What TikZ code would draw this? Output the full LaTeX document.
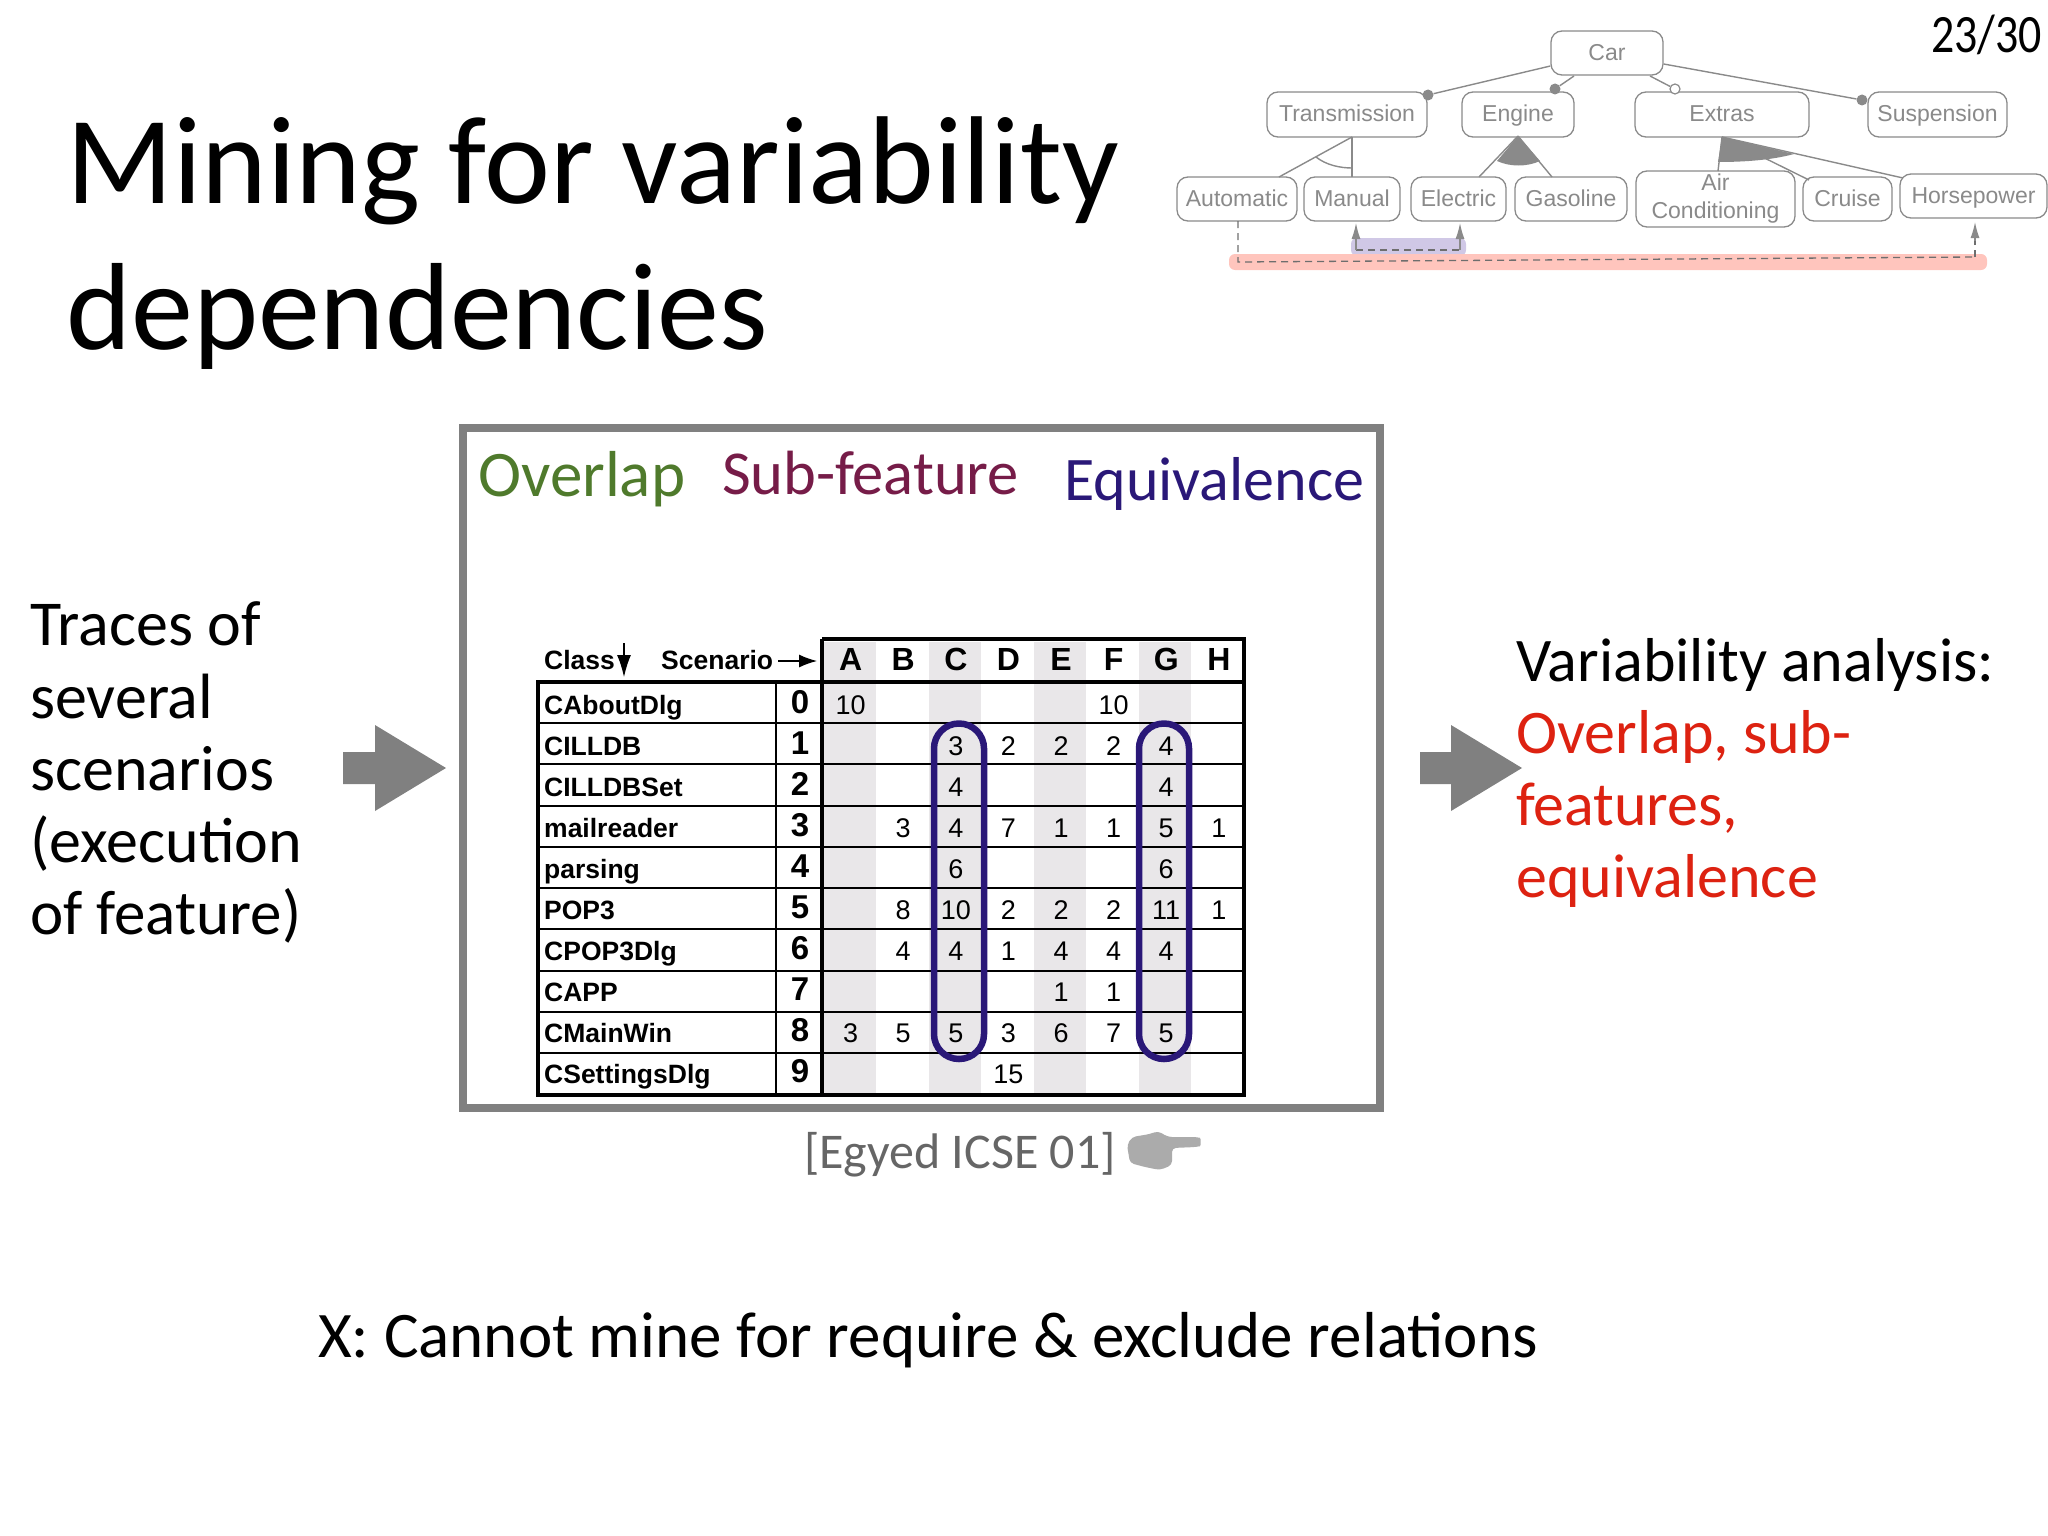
\documentclass[tikz,border=0pt]{standalone}
\usepackage{fontspec}
\setmainfont{Carlito}
\newfontfamily\hv{Liberation Sans}
\newfontfamily\pgfont[FakeStretch=0.85]{Carlito}
\usetikzlibrary{arrows.meta}
\definecolor{fm}{HTML}{8A8A8A}
\definecolor{colshade}{HTML}{E9E7E9}
\definecolor{indig}{HTML}{2A1878}
\definecolor{frameg}{HTML}{808080}
\definecolor{olap}{HTML}{4F7A2C}
\definecolor{subf}{HTML}{761C48}
\definecolor{redt}{HTML}{DD2211}
\definecolor{hand}{HTML}{ABABAB}
\definecolor{barp}{HTML}{D0C8E6}
\definecolor{barr}{HTML}{FFC5BD}
\newcommand{\fsz}[1]{\fontsize{#1pt}{#1pt}\selectfont}
\tikzset{
  txt/.style={anchor=base west,inner sep=0pt,font=\fsz{#1}},
  fbox/.style={draw=fm,line width=1.3pt,rounded corners=11pt,fill=white,inner sep=0pt,text=fm,font=\hv\fsz{23},align=center},
  fline/.style={draw=fm,line width=1.4pt},
  fdash/.style={draw=fm!80!black,line width=1.3pt,dash pattern=on 7pt off 5pt},
  ftip/.style={-{Latex[length=16pt,width=9pt]},fm,line width=1.3pt},
  dot/.style={circle,fill=fm,inner sep=0pt,minimum size=11pt},
  odot/.style={circle,draw=fm,fill=white,line width=1.2pt,inner sep=0pt,minimum size=10pt},
  tline/.style={draw=black,line width=2.2pt},
  tthick/.style={draw=black,line width=3.6pt},
  cell/.style={anchor=base,inner sep=0pt,font=\hv\fsz{27}},
  rownum/.style={anchor=base,inner sep=0pt,font=\hv\bfseries\fsz{33}},
  cname/.style={anchor=base west,inner sep=0pt,font=\hv\bfseries\fsz{26.5}},
  chead/.style={anchor=base,inner sep=0pt,font=\hv\bfseries\fsz{32}},
  oval/.style={draw=indig,line width=6.5pt,rounded corners=24.9pt},
  blockarrow/.style={fill=frameg,draw=none},
}
\begin{document}
\begin{tikzpicture}[x=1pt,y=-1pt]
\useasboundingbox (0,0) rectangle (2048,1536);
% title
\node[txt=125] (t1) at (66,203) {Mining for variability};
\node[txt=124] (t2) at (66,349) {dependencies};
\node[anchor=base east,inner sep=0pt,font=\pgfont\fsz{54}] (pg) at (2042,53) {23/30};
% feature model highlight bars
\fill[fill=barp,rounded corners=6pt] (1351,238) rectangle (1466,256);
\fill[fill=barr,rounded corners=6pt] (1229,254) rectangle (1987,270);
% features
\newcommand{\fb}[6]{\node[fbox,text height=18pt,text depth=3pt,minimum width=#4pt-#3pt,minimum height=#6pt-#5pt] (#1) at ({(#3+#4)/2},{(#5+#6)/2}) {#2};}
\fb{car}{Car}{1551}{1663}{31}{75}
\fb{trans}{Transmission}{1267}{1427}{92}{137}
\fb{engine}{Engine}{1462}{1574}{92}{137}
\fb{extras}{Extras}{1635}{1809}{92}{137}
\fb{susp}{Suspension}{1868}{2007}{92}{137}
\fb{auto}{Automatic}{1177}{1297}{177}{221}
\fb{manual}{Manual}{1304}{1400}{177}{221}
\fb{electric}{Electric}{1411}{1506}{177}{221}
\fb{gas}{Gasoline}{1515}{1627}{177}{221}
\node[fbox,minimum width=159pt,minimum height=56pt] (air) at (1715.5,199) {Air\\[5pt]Conditioning};
\fb{cruise}{Cruise}{1803}{1892}{177}{221}
\fb{horse}{Horsepower}{1900}{2047}{174}{218}
% dots
\node[dot] (d1) at (1428,95) {};
\node[dot] (d2) at (1555,89) {};
\node[odot] (d3) at (1675,89) {};
\node[dot] (d4) at (1862,100) {};
\draw[fline] (car.west |- 0,66) -- (d1);
\draw[fline] (1574,76) -- (d2);
\draw[fline] (1650,76) -- (d3);
\draw[fline] (car.east |- 0,64) -- (d4);
% groups
\coordinate (ga) at (1352,137);
\draw[fline] (ga) -- (1279,177);
\draw[fline] (ga) -- (1352,177);
\draw[fline] (1316,157) .. controls (1326,165) and (1340,168) .. (1352,168);
\coordinate (gb) at (1518,136);
\fill[fm] (gb) -- (1497,161) .. controls (1510,167) and (1527,167) .. (1540,161) -- cycle;
\draw[fline] (gb) -- (1479,177);
\draw[fline] (gb) -- (1552,177);
\coordinate (gc) at (1722,137);
\fill[fm] (gc) -- (1718,162) .. controls (1745,162) and (1772,160) .. (1794,154) -- cycle;
\draw[fline] (gc) -- (1718,171);
\draw[fline] (gc) -- (1809,180);
\draw[fline] (gc) -- (1903,178);
% dependencies
\coordinate (e1) at (1238,262);
\coordinate (e2) at (1975,257);
\coordinate (e3) at (1356,250);
\coordinate (e4) at (1460,250);
\draw[fdash] (1238,221) -- (e1) -- (e2);
\draw[fdash] (e2) -- (1975,240);
\draw[ftip] (1975,241) -- (1975,222);
\draw[fdash] (e3) -- (e4);
\draw[ftip] (e3) -- (1356,223);
\draw[ftip] (e4) -- (1460,223);
% main frame
\draw[draw=frameg,line width=7.5pt] (463,428) rectangle (1380,1108);
\node[txt=65,text=olap] (ov) at (478,496) {Overlap};
\node[txt=62.5,text=subf] (sf) at (722,494) {Sub-feature};
\node[txt=62,text=indig] (eq) at (1064,500) {Equivalence};
% table shading
\foreach \x in {824,929,1034,1139}{\fill[fill=colshade] (\x,642) rectangle ++(52,451);}
% table lines
\foreach \y in {723,764,806,847,888,929,971,1012,1053}{\draw[tline] (538,\y) -- (1244,\y);}
\draw[tline] (776,682) -- (776,1095);
\draw[tthick] (822,639) -- (822,1095);
\draw[tthick] (822,639) -- (1244,639) -- (1244,1095) -- (538,1095) -- (538,682) -- (1244,682);
% headers
\node[cname] (hc) at (544,669) {Class};
\node[cname] (hs) at (661,669) {Scenario};
\draw[-{Latex[length=18pt,width=13pt]},line width=1.2pt] (hs.base east |- 0,661) ++(5,0) -- (817,661);
\draw[-{Latex[length=22pt,width=14pt]},line width=1.2pt] (624,643) -- (624,677);
\foreach \l [count=\i from 0] in {A,B,C,D,E,F,G,H}{
  \node[chead] (h\l) at ({850.6+52.6*\i},670) {\l};
}
% rows
\foreach \n/\r in {CAboutDlg/0,CILLDB/1,CILLDBSet/2,mailreader/3,parsing/4,POP3/5,CPOP3Dlg/6,CAPP/7,CMainWin/8,CSettingsDlg/9}{
  \node[cname] (c\r) at (544,{714+41.1*\r}) {\n};
  \node[rownum] (n\r) at (800,{713+41.1*\r}) {\r};
}
% cells: row/col/value
\foreach \r/\c/\v in {0/0/10,0/5/10,
 1/2/3,1/3/2,1/4/2,1/5/2,1/6/4,
 2/2/4,2/6/4,
 3/1/3,3/2/4,3/3/7,3/4/1,3/5/1,3/6/5,3/7/1,
 4/2/6,4/6/6,
 5/1/8,5/2/10,5/3/2,5/4/2,5/5/2,5/6/11,5/7/1,
 6/1/4,6/2/4,6/3/1,6/4/4,6/5/4,6/6/4,
 7/4/1,7/5/1,
 8/0/3,8/1/5,8/2/5,8/3/3,8/4/6,8/5/7,8/6/5,
 9/3/15}{
  \node[cell] (v\r\c) at ({850.6+52.6*\c},{714+41.1*\r}) {\v};
}
% ovals
\draw[oval] (934,723.5) rectangle (984,1059);
\draw[oval] (1139,723.5) rectangle (1189,1059);
% arrows
\fill[blockarrow] (343,752) -- (375,752) -- (375,725) -- (446,768) -- (375,811) -- (375,784) -- (343,784) -- cycle;
\fill[blockarrow] (1420,752) -- (1451,752) -- (1451,725) -- (1522,768) -- (1451,811) -- (1451,784) -- (1420,784) -- cycle;
% side text
\node[txt=64] (l1) at (30,645) {Traces of};
\node[txt=64] (l2) at (30,718) {several};
\node[txt=64] (l3) at (30,790) {scenarios};
\node[txt=64] (l4) at (30,862) {(execution};
\node[txt=63] (l5) at (30,934) {of feature)};
\node[txt=62] (r1) at (1516,681) {Variability analysis:};
\node[txt=62,text=redt] (r2) at (1516,753) {Overlap, sub-};
\node[txt=62,text=redt] (r3) at (1516,825) {features,};
\node[txt=62,text=redt] (r4) at (1516,897) {equivalence};
\node[txt=50,text=black!60] (eg) at (804,1168) {[Egyed ICSE 01]};
\fill[hand,rounded corners=4pt] (1127,1145) -- (1132,1137) -- (1150,1134) -- (1158,1131) -- (1168,1137) -- (1196,1137) .. controls (1201,1138) and (1201,1146) .. (1196,1147) -- (1172,1148) -- (1172,1165) -- (1160,1170) -- (1145,1167) -- (1130,1163) -- cycle;
\node[txt=65] (xx) at (318,1357) {X: Cannot mine for require \& exclude relations};
\end{tikzpicture}
\end{document}
